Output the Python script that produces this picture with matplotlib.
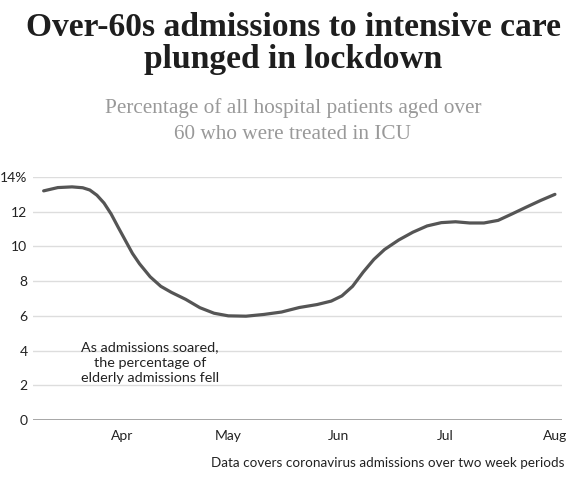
import matplotlib.pyplot as plt
import numpy as np

dates = ['2020-03-10', '2020-03-14', '2020-03-18', '2020-03-21', '2020-03-23', '2020-03-25',
         '2020-03-27', '2020-03-29', '2020-03-31', '2020-04-02', '2020-04-04', '2020-04-06',
         '2020-04-09', '2020-04-12', '2020-04-15', '2020-04-19', '2020-04-23', '2020-04-27',
         '2020-05-01', '2020-05-06', '2020-05-11', '2020-05-16', '2020-05-21', '2020-05-26',
         '2020-05-30', '2020-06-02', '2020-06-05', '2020-06-08', '2020-06-11', '2020-06-14',
         '2020-06-18', '2020-06-22', '2020-06-26', '2020-06-30', '2020-07-04', '2020-07-08',
         '2020-07-12', '2020-07-16', '2020-07-20', '2020-07-24', '2020-07-28', '2020-08-01']
pct = [13.2, 13.39, 13.43, 13.38, 13.25, 12.95,
       12.5, 11.87, 11.1, 10.35, 9.6, 9.0,
       8.25, 7.7, 7.35, 6.95, 6.47, 6.15,
       6.0, 5.98, 6.08, 6.22, 6.48, 6.65,
       6.85, 7.15, 7.7, 8.52, 9.25, 9.82,
       10.37, 10.82, 11.18, 11.37, 11.42, 11.35,
       11.35, 11.5, 11.88, 12.27, 12.65, 13.0]
yticks = [0, 2, 4, 6, 8, 10, 12, 14]
ylabels = ['0', '2', '4', '6', '8', '10', '12', '14%']
months = ['2020-04-01', '2020-05-01', '2020-06-01', '2020-07-01', '2020-08-01']
month_labels = ['Apr', 'May', 'Jun', 'Jul', 'Aug']
title_lines = ['Over-60s admissions to intensive care', 'plunged in lockdown']
subtitle_lines = ['Percentage of all hospital patients aged over', '60 who were treated in ICU']

x = np.array(dates, dtype='datetime64[D]')
fig = plt.figure(figsize=(5.66, 4.90), dpi=100)
ax = fig.add_axes([0.0583, 0.1429, 0.9347, 0.4959])

ax.plot(x, pct, color='#555555', linewidth=2.3, solid_capstyle='round',
        solid_joinstyle='round', clip_on=False)
ax.set_ylim(0, 14)
ax.set_xlim(np.datetime64('2020-03-07'), np.datetime64('2020-08-03'))
ax.set_yticks(yticks)
ax.set_yticklabels(ylabels)
ax.set_xticks(np.array(months, dtype='datetime64[D]'))
ax.set_xticklabels(month_labels)
for s in ax.spines.values():
    s.set_visible(False)
ax.grid(axis='y', color='#dddddd', linewidth=1)
ax.axhline(0, color='#999999', linewidth=1.2)
ax.tick_params(length=0, labelsize=10, colors='#222222')
ax.tick_params(axis='y', pad=4)
ax.tick_params(axis='x', pad=7)
for t in ax.get_xticklabels() + ax.get_yticklabels():
    t.set_family('Lato')

ax.text(np.datetime64('2020-04-09'), 3.3, 'As admissions soared,\nthe percentage of\nelderly admissions fell',
        ha='center', va='center', fontsize=10.4, family='Lato', color='#222222', linespacing=1.33)

# header lines placed by baseline (pixels from top)
for line, ypix in zip(title_lines, [36, 68]):
    fig.text(293 / 566, 1 - ypix / 490, line, ha='center', va='baseline',
             fontsize=24.1, fontweight='bold', family='Liberation Serif', color='#1e1e1e')
for line, ypix in zip(subtitle_lines, [113, 139]):
    fig.text(293 / 566, 1 - ypix / 490, line, ha='center', va='baseline',
             fontsize=15.3, family='Liberation Serif', color='#999999')
fig.text(0.998, 0.055, 'Data covers coronavirus admissions over two week periods', ha='right', va='center',
         fontsize=9.75, family='Lato', color='#222222')

fig.savefig('out.png', dpi=100)
